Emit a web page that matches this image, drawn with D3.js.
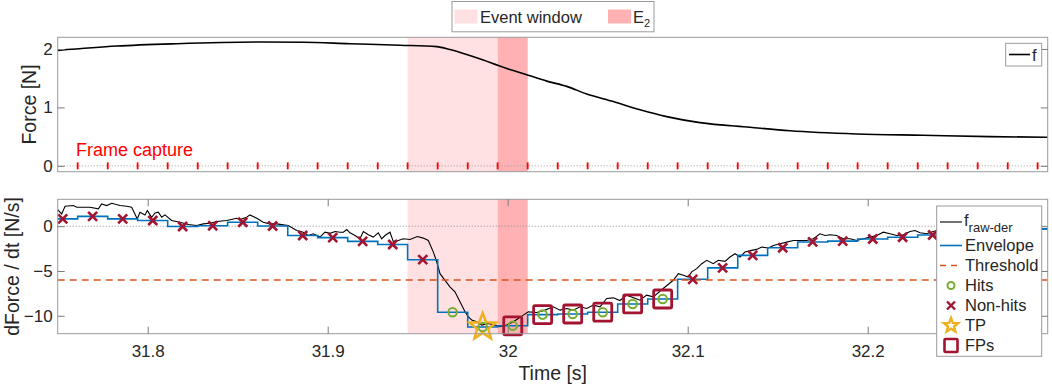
<!DOCTYPE html>
<html>
<head>
<meta charset="utf-8">
<script src="https://cdn.jsdelivr.net/npm/d3@7"></script>
<style>
  body { margin: 0; background: #fff; }
  svg text { font-family: "Liberation Sans", Arial, Helvetica, sans-serif; fill: #262626; }
</style>
</head>
<body>
<div id="chart"></div>
<script>
// ---- data ----
const frameTimes = [31.7611, 31.7778, 31.7944, 31.8111, 31.8278, 31.8444, 31.8611, 31.8778, 31.8944, 31.9111,
    31.9278, 31.9444, 31.9611, 31.9778, 31.9944, 32.0111, 32.0278, 32.0444, 32.0611, 32.0778, 32.0944, 32.1111,
    32.1278, 32.1444, 32.1611, 32.1778, 32.1944, 32.2111, 32.2278, 32.2444, 32.2611, 32.2778, 32.2944];
const eventWindow = [31.9444, 31.9944];
const e2Window = [31.9944, 32.0111];

const forceTime = [31.75, 31.7828, 31.8161, 31.8641, 31.8863, 31.9124, 31.9402, 31.9606, 31.9679, 31.9772, 31.9864,
    31.9948, 32.0031, 32.0114, 32.0217, 32.0328, 32.0439, 32.0587, 32.0735, 32.0883, 32.1068, 32.1346, 32.1568,
    32.1939, 32.2307, 32.2679, 32.3];
const forceValue = [1.975, 2.05, 2.09, 2.12, 2.115, 2.09, 2.065, 2.04, 1.99, 1.905, 1.81,
    1.716, 1.63, 1.55, 1.45, 1.36, 1.23, 1.1, 0.96, 0.843, 0.74, 0.66, 0.6,
    0.546, 0.523, 0.5, 0.49];

const derTime = [31.75, 31.7522, 31.7541, 31.7587, 31.7606, 31.7679, 31.7726, 31.7744, 31.7772, 31.78, 31.7846,
    31.7883, 31.7911, 31.7929, 31.7942, 31.7957, 31.7985, 31.7998, 31.8022, 31.8041, 31.8059, 31.8078, 31.8096,
    31.8133, 31.8179, 31.8226, 31.8272, 31.8309, 31.8346, 31.8383, 31.8439, 31.8494, 31.8513, 31.855, 31.8568,
    31.8606, 31.8642, 31.8679, 31.8717, 31.8753, 31.8781, 31.8828, 31.8864, 31.8892, 31.892, 31.8957, 31.8985,
    31.9013, 31.9041, 31.9068, 31.9087, 31.9106, 31.9124, 31.9152, 31.9179, 31.9198, 31.9226, 31.9253, 31.9281,
    31.93, 31.9318, 31.9346, 31.9364, 31.9392, 31.942, 31.9457, 31.9498, 31.9531, 31.9559, 31.9587, 31.9606,
    31.9624, 31.9652, 31.9679, 31.9707, 31.9735, 31.9763, 31.9781, 31.98, 31.9828, 31.9856, 31.9892, 31.9929,
    31.9957, 31.9994, 32.0031, 32.0059, 32.0087, 32.0114, 32.0161, 32.0207, 32.0253, 32.0291, 32.0328, 32.0364,
    32.0402, 32.0439, 32.0476, 32.0513, 32.055, 32.0587, 32.0624, 32.0661, 32.0735, 32.0772, 32.0809, 32.0864,
    32.092, 32.0948, 32.0976, 32.1003, 32.1022, 32.105, 32.1078, 32.1106, 32.1142, 32.117, 32.1207, 32.1235,
    32.1263, 32.1291, 32.1318, 32.1356, 32.1383, 32.1411, 32.1448, 32.1476, 32.1513, 32.155, 32.1587, 32.1624,
    32.1661, 32.1698, 32.1735, 32.1763, 32.1791, 32.1828, 32.1864, 32.1902, 32.1939, 32.1976, 32.2013, 32.205,
    32.2087, 32.2124, 32.2161, 32.2198, 32.2235, 32.2263, 32.2291, 32.2328, 32.2364, 32.2392, 32.2513, 32.2679,
    32.2846, 32.2976, 32.3];
const derValue = [1.85, 1.37, 2.22, 2.3, 2.11, 2.11, 1.93, 2.48, 2.3, 2.56, 2.3,
    2.22, 2.11, 1.37, 0.81, 1.56, 1.26, 1.74, 1.0, 1.48, 1.56, 1.0, 1.26,
    0.63, 0.44, 0.19, 0.07, 0.26, 0.33, 0.52, 0.63, 0.89, 0.74, 1.0, 1.26,
    0.89, 0.44, 0.26, 0.26, 0.15, 0.07, -0.48, -0.67, -1.04, -0.85, -1.22, -0.67,
    -0.8, -0.59, -0.67, -0.67, -0.37, -0.74, -1.04, -1.41, -0.59, -0.96, -1.22, -0.74,
    -1.41, -1.04, -0.67, -1.7, -1.59, -1.41, -1.48, -1.15, -1.33, -1.59, -2.89, -4.0,
    -5.3, -6.04, -6.78, -7.33, -8.44, -9.56, -10.1, -10.48, -10.67, -11.04, -10.85, -11.04,
    -11.22, -11.04, -10.67, -10.3, -9.93, -9.56, -9.63, -9.37, -9.0, -9.37, -9.19, -9.37,
    -9.0, -9.19, -8.81, -9.0, -8.07, -8.0, -8.3, -7.7, -8.26, -7.7, -7.89, -6.96,
    -6.04, -5.3, -5.48, -5.67, -5.1, -4.74, -4.19, -3.81, -4.19, -3.81, -3.93, -3.44,
    -3.07, -3.44, -2.89, -2.7, -2.59, -2.33, -2.44, -2.15, -1.96, -1.78, -1.59, -1.59,
    -1.59, -1.41, -0.85, -1.04, -0.96, -1.04, -1.41, -1.41, -1.59, -1.41, -1.22, -1.04,
    -0.67, -0.85, -1.04, -0.96, -0.59, -0.48, -0.74, -0.85, -0.59, -0.48, -0.4, -0.3,
    -0.25, -0.3, -0.3];

// one envelope sample per frame interval, marker sits mid-interval
const markerTime = [31.7528, 31.7694, 31.7861, 31.8028, 31.8194, 31.8361, 31.8528, 31.8694, 31.8861, 31.9028,
    31.9194, 31.9361, 31.9528, 31.9694, 31.9861, 32.0028, 32.0194, 32.0361, 32.0528, 32.0694, 32.0861, 32.1028,
    32.1194, 32.1361, 32.1528, 32.1694, 32.1861, 32.2028, 32.2194, 32.2361, 32.2528, 32.2694, 32.2861];
const envelopeValue = [0.81, 1.09, 0.81, 0.63, -0.04, 0.05, 0.44, 0.02, -1.04, -1.28,
    -1.7, -2.04, -3.74, -9.6, -11.25, -11.12, -9.87, -9.8, -9.6, -8.68, -8.13, -5.93,
    -4.65, -3.26, -2.41, -1.76, -1.67, -1.43, -1.24, -0.98, -0.8, -0.55, -0.3];
const hitIndex = [13, 14, 15, 16, 17, 18, 19, 20];
const tpIndex = [14];
const fpIndex = [15, 16, 17, 18, 19, 20];
const threshold = -6;

const xTicks = [31.8, 31.9, 32, 32.1, 32.2];
const xTickLabels = ["31.8", "31.9", "32", "32.1", "32.2"];
const forceTicks = [0, 1, 2];
const derTicks = [-10, -5, 0];

// ---- layout ----
const W = 1052, H = 387;
const left = 57.7, right = 1047.7;
const top1 = 37.3, bot1 = 171.7;
const top2 = 199.3, bot2 = 333.7;

const C = {
    frame: "#9a9a9a", tick: "#7a7a7a", light: "#ffe0e3", dark: "#ffb1b4",
    blue: "#0072BD", orange: "#D95319", green: "#77AC30", crimson: "#A2142F", gold: "#EDB120", red: "#ff0000"
};

const svg = d3.select("#chart").append("svg").attr("width", W).attr("height", H);

const x = d3.scaleLinear().domain([31.75, 32.3]).range([left, right]);
const y1 = d3.scaleLinear().domain([-0.1, 2.2]).range([bot1, top1]);
const y2 = d3.scaleLinear().domain([-12, 3]).range([bot2, top2]);

const defs = svg.append("defs");
defs.append("clipPath").attr("id", "clip1").append("rect")
    .attr("x", left).attr("y", top1).attr("width", right - left).attr("height", bot1 - top1);
defs.append("clipPath").attr("id", "clip2").append("rect")
    .attr("x", left).attr("y", top2).attr("width", right - left).attr("height", bot2 - top2);

function starPath(R) {
    const pts = [];
    for (let i = 0; i < 10; i++) {
        const r = i % 2 === 0 ? R : R * 0.42;
        const a = -Math.PI / 2 + i * Math.PI / 5;
        pts.push([r * Math.cos(a), r * Math.sin(a)]);
    }
    return "M" + pts.map((p) => p.join(",")).join("L") + "Z";
}

function shading(g, yScale) {
    const [y0, yTop] = [yScale.range()[0], yScale.range()[1]];
    g.append("rect").attr("x", x(eventWindow[0])).attr("y", yTop)
        .attr("width", x(eventWindow[1]) - x(eventWindow[0])).attr("height", y0 - yTop).attr("fill", C.light);
    g.append("rect").attr("x", x(e2Window[0])).attr("y", yTop)
        .attr("width", x(e2Window[1]) - x(e2Window[0])).attr("height", y0 - yTop).attr("fill", C.dark);
}

function frameBox(yScale) {
    svg.append("rect").attr("x", left).attr("y", yScale.range()[1])
        .attr("width", right - left).attr("height", yScale.range()[0] - yScale.range()[1])
        .attr("fill", "none").attr("stroke", C.frame).attr("stroke-width", 1);
}

function styleAxis(g) {
    g.select(".domain").remove();
    g.selectAll(".tick line").attr("stroke", C.tick);
    g.selectAll(".tick text").attr("font-size", 17).attr("fill", "#262626");
}

// ---- top panel: force ----
const g1 = svg.append("g");
shading(g1, y1);

g1.append("line").attr("x1", left).attr("x2", right).attr("y1", y1(0)).attr("y2", y1(0))
    .attr("stroke", "#9a9a9a").attr("stroke-dasharray", "1,2");

g1.append("g").selectAll("line").data(frameTimes).join("line")
    .attr("x1", (d) => x(d)).attr("x2", (d) => x(d))
    .attr("y1", y1(0) - 3.5).attr("y2", y1(0) + 3.5)
    .attr("stroke", C.red).attr("stroke-width", 1.8);

g1.append("text").attr("x", 76).attr("y", 156).attr("font-size", 18)
    .style("fill", C.red).text("Frame capture");

const forceLine = d3.line().x((d, i) => x(forceTime[i])).y((d) => y1(d)).curve(d3.curveMonotoneX);
g1.append("path").attr("clip-path", "url(#clip1)").attr("d", forceLine(forceValue))
    .attr("fill", "none").attr("stroke", "#000").attr("stroke-width", 1.6);

frameBox(y1);
svg.append("g").attr("transform", `translate(${left},0)`)
    .call(d3.axisLeft(y1).tickValues(forceTicks).tickFormat(d3.format("d"))
        .tickSizeInner(-7).tickSizeOuter(0).tickPadding(5))
    .call(styleAxis);
svg.append("g").attr("transform", `translate(${right},0)`)
    .call(d3.axisRight(y1).tickValues(forceTicks).tickSizeInner(-7).tickSizeOuter(0).tickFormat(""))
    .call(styleAxis);

svg.append("text").attr("transform", `translate(36,${(top1 + bot1) / 2}) rotate(-90)`)
    .attr("text-anchor", "middle").attr("font-size", 19.5).text("Force [N]");

// legend "f"
const lf = svg.append("g");
lf.append("rect").attr("x", 1005.7).attr("y", 43.3).attr("width", 36).attr("height", 22.7)
    .attr("fill", "#fff").attr("stroke", C.frame);
lf.append("line").attr("x1", 1009).attr("x2", 1030).attr("y1", 54.5).attr("y2", 54.5)
    .attr("stroke", "#000").attr("stroke-width", 1.6);
lf.append("text").attr("x", 1032).attr("y", 60.5).attr("font-size", 16.5).text("f");

// top legend
const lt = svg.append("g");
lt.append("rect").attr("x", 452).attr("y", 1.5).attr("width", 202).attr("height", 30.3)
    .attr("fill", "#fff").attr("stroke", C.frame);
lt.append("rect").attr("x", 454.5).attr("y", 9.5).attr("width", 23).attr("height", 14).attr("fill", C.light);
lt.append("text").attr("x", 480).attr("y", 22.5).attr("font-size", 16.5).text("Event window");
lt.append("rect").attr("x", 608).attr("y", 9.5).attr("width", 23).attr("height", 14).attr("fill", C.dark);
const e2t = lt.append("text").attr("x", 633).attr("y", 22.5).attr("font-size", 16.5);
e2t.append("tspan").text("E");
e2t.append("tspan").attr("font-size", 11).attr("dy", 4).text("2");

// ---- bottom panel: derivative ----
const g2 = svg.append("g");
shading(g2, y2);

g2.append("line").attr("x1", left).attr("x2", right).attr("y1", y2(0)).attr("y2", y2(0))
    .attr("stroke", "#8a8a8a").attr("stroke-dasharray", "1,2");

const plot2 = g2.append("g").attr("clip-path", "url(#clip2)");
const derLine = d3.line().x((d, i) => x(derTime[i])).y((d) => y2(d));
plot2.append("path").attr("d", derLine(derValue))
    .attr("fill", "none").attr("stroke", "#000").attr("stroke-width", 1.1);

// envelope as a step over frame intervals
const envPts = [];
envelopeValue.forEach((v, k) => {
    const t0 = k === 0 ? x.domain()[0] : frameTimes[k - 1];
    const t1 = k === envelopeValue.length - 1 ? x.domain()[1] : frameTimes[k];
    envPts.push([t0, v], [t1, v]);
});
plot2.append("path").attr("d", d3.line().x((d) => x(d[0])).y((d) => y2(d[1]))(envPts))
    .attr("fill", "none").attr("stroke", C.blue).attr("stroke-width", 1.6);

plot2.append("line").attr("x1", left).attr("x2", right).attr("y1", y2(threshold)).attr("y2", y2(threshold))
    .attr("stroke", C.orange).attr("stroke-width", 1.6).attr("stroke-dasharray", "7,5");

const nonHitIndex = envelopeValue.map((d, i) => i).filter((i) => !hitIndex.includes(i));

g2.append("g").selectAll("circle").data(hitIndex).join("circle")
    .attr("cx", (i) => x(markerTime[i])).attr("cy", (i) => y2(envelopeValue[i])).attr("r", 4.3)
    .attr("fill", "none").attr("stroke", C.green).attr("stroke-width", 2);

g2.append("g").selectAll("path").data(nonHitIndex).join("path")
    .attr("transform", (i) => `translate(${x(markerTime[i])},${y2(envelopeValue[i])})`)
    .attr("d", "M-4.5,-4.5L4.5,4.5M-4.5,4.5L4.5,-4.5")
    .attr("stroke", C.crimson).attr("stroke-width", 2.6);

g2.append("g").selectAll("path").data(tpIndex).join("path")
    .attr("transform", (i) => `translate(${x(markerTime[i])},${y2(envelopeValue[i])})`)
    .attr("d", starPath(14))
    .attr("fill", "none").attr("stroke", C.gold).attr("stroke-width", 2.5).attr("stroke-linejoin", "miter");

g2.append("g").selectAll("rect").data(fpIndex).join("rect")
    .attr("x", (i) => x(markerTime[i]) - 9).attr("y", (i) => y2(envelopeValue[i]) - 9)
    .attr("width", 18).attr("height", 18).attr("rx", 1.5)
    .attr("fill", "none").attr("stroke", C.crimson).attr("stroke-width", 2.8);

frameBox(y2);
svg.append("g").attr("transform", `translate(${left},0)`)
    .call(d3.axisLeft(y2).tickValues(derTicks).tickSizeInner(-7).tickSizeOuter(0).tickPadding(5))
    .call(styleAxis);
svg.append("g").attr("transform", `translate(${right},0)`)
    .call(d3.axisRight(y2).tickValues(derTicks).tickSizeInner(-7).tickSizeOuter(0).tickFormat(""))
    .call(styleAxis);
svg.append("g").attr("transform", `translate(0,${bot2})`)
    .call(d3.axisBottom(x).tickValues(xTicks).tickFormat((d, i) => xTickLabels[i])
        .tickSizeInner(-7).tickSizeOuter(0).tickPadding(11))
    .call(styleAxis);
svg.append("g").attr("transform", `translate(0,${top2})`)
    .call(d3.axisTop(x).tickValues(xTicks).tickSizeInner(-7).tickSizeOuter(0).tickFormat(""))
    .call(styleAxis);

svg.append("text").attr("transform", `translate(18.5,${(top2 + bot2) / 2}) rotate(-90)`)
    .attr("text-anchor", "middle").attr("font-size", 19.5).text("dForce / dt [N/s]");
svg.append("text").attr("x", (left + right) / 2).attr("y", 380)
    .attr("text-anchor", "middle").attr("font-size", 19.5).text("Time [s]");

// bottom legend
const lb = svg.append("g");
lb.append("rect").attr("x", 936.7).attr("y", 206).attr("width", 105).attr("height", 150.3)
    .attr("fill", "#fff").attr("stroke", C.frame);
const lx0 = 940, lx1 = 962, lmx = 951, ltx = 965;
const rows = [222, 245.5, 265.5, 285.5, 305.5, 325.5, 345.5];

lb.append("line").attr("x1", lx0).attr("x2", lx1).attr("y1", rows[0]).attr("y2", rows[0])
    .attr("stroke", "#000").attr("stroke-width", 1.1);
const fr = lb.append("text").attr("x", ltx - 1).attr("y", rows[0] + 4).attr("font-size", 16.5);
fr.append("tspan").text("f");
fr.append("tspan").attr("font-size", 13).attr("dy", 6).text("raw-der");

lb.append("line").attr("x1", lx0).attr("x2", lx1).attr("y1", rows[1]).attr("y2", rows[1])
    .attr("stroke", C.blue).attr("stroke-width", 1.6);
lb.append("line").attr("x1", lx0).attr("x2", lx1).attr("y1", rows[2]).attr("y2", rows[2])
    .attr("stroke", C.orange).attr("stroke-width", 1.6).attr("stroke-dasharray", "6,5");
lb.append("circle").attr("cx", lmx).attr("cy", rows[3]).attr("r", 3.5)
    .attr("fill", "none").attr("stroke", C.green).attr("stroke-width", 2);
lb.append("path").attr("transform", `translate(${lmx},${rows[4]})`).attr("d", "M-4,-4L4,4M-4,4L4,-4")
    .attr("stroke", C.crimson).attr("stroke-width", 2.4);
lb.append("path").attr("transform", `translate(${lmx},${rows[5]})`).attr("d", starPath(7.5))
    .attr("fill", "none").attr("stroke", C.gold).attr("stroke-width", 2.4);
lb.append("rect").attr("x", lmx - 6.5).attr("y", rows[6] - 6.5).attr("width", 13).attr("height", 13).attr("rx", 1)
    .attr("fill", "none").attr("stroke", C.crimson).attr("stroke-width", 2.6);

const labels = ["Envelope", "Threshold", "Hits", "Non-hits", "TP", "FPs"];
lb.selectAll("text.lab").data(labels).join("text").attr("class", "lab")
    .attr("x", ltx).attr("y", (d, i) => rows[i + 1] + 5.5).attr("font-size", 16.5).text((d) => d);
</script>
</body>
</html>
